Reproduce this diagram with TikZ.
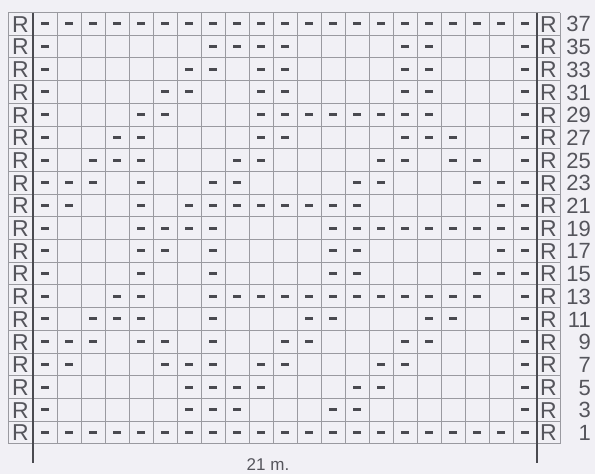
\documentclass[tikz,border=0pt]{standalone}
\usepackage{fontspec}
\setmainfont{Liberation Sans}
\definecolor{bgcol}{HTML}{F1F0F5}
\definecolor{gridcol}{HTML}{9A9AA0}
\definecolor{inkcol}{HTML}{4A4A50}
\definecolor{txtcol}{HTML}{55555C}
\tikzset{
  gridline/.style={draw=gridcol, line width=0.9pt},
  thickline/.style={draw=inkcol, line width=2.4pt},
  purl/.style={fill=inkcol, draw=none},
  rlabel/.style={inner sep=0pt, text=txtcol, font=\fontsize{23}{23}\selectfont},
  rownum/.style={inner sep=0pt, anchor=east, text=txtcol, font=\fontsize{22}{22}\selectfont},
  caption/.style={inner sep=0pt, text=txtcol, font=\fontsize{17}{17}\selectfont}
}
\begin{document}
\begin{tikzpicture}[x=1pt,y=-1pt]
\fill[bgcol] (0,0) rectangle (595,474);
\useasboundingbox (0,0) rectangle (595,474);
\def\rh{22.7}
\def\ytop{12.5}
% horizontal lines
\foreach \k in {0,...,19} {
  \draw[gridline] (8,{\ytop+\rh*\k}) -- (560,{\ytop+\rh*\k});
}
% vertical lines
\draw[gridline] (8,\ytop) -- (8,{\ytop+19*\rh});
\draw[gridline] (560,\ytop) -- (560,{\ytop+19*\rh});
\foreach \k in {1,...,20} {
  \draw[gridline] ({33+24*\k},\ytop) -- ({33+24*\k},{\ytop+19*\rh});
}
% purl dashes
\foreach \i/\cols in {
  0/{1,2,3,4,5,6,7,8,9,10,11,12,13,14,15,16,17,18,19,20,21},
  1/{1,8,9,10,11,16,17,21},
  2/{1,7,8,10,11,16,17,21},
  3/{1,6,7,10,11,16,17,21},
  4/{1,5,6,10,11,12,13,14,15,16,17,21},
  5/{1,4,5,10,11,16,17,18,21},
  6/{1,3,4,5,9,10,15,16,18,19,21},
  7/{1,2,3,5,8,9,14,15,19,20,21},
  8/{1,2,5,7,8,9,10,11,12,13,14,20,21},
  9/{1,5,6,7,8,13,14,15,16,17,18,19,20,21},
  10/{1,5,6,8,13,14,20,21},
  11/{1,5,8,13,14,19,20,21},
  12/{1,4,5,8,9,10,11,12,13,14,15,16,17,18,19,21},
  13/{1,3,4,5,8,12,13,17,18,21},
  14/{1,2,3,5,6,8,11,12,16,17,21},
  15/{1,2,6,7,8,10,11,15,16,21},
  16/{1,7,8,9,10,14,15,21},
  17/{1,7,8,9,13,14,21},
  18/{1,2,3,4,5,6,7,8,9,10,11,12,13,14,15,16,17,18,19,20,21}} {
  \foreach \c in \cols {
    \fill[purl] ({21+24*\c-4.2},{\ytop+\rh*(\i+0.5)-1.5}) rectangle ({21+24*\c+4.2},{\ytop+\rh*(\i+0.5)+1.5});
  }
  \pgfmathtruncatemacro{\rn}{37-2*\i}
  \node[rlabel] (rl-\i) at (20.5,{\ytop+\rh*(\i+0.5)+0.5}) {R};
  \node[rlabel] (rr-\i) at (548.5,{\ytop+\rh*(\i+0.5)+0.5}) {R};
  \node[rownum] (n-\i) at (591,{\ytop+\rh*(\i+0.5)+0.5}) {\rn};
}
% thick edge lines
\draw[thickline] (33,\ytop) -- (33,463);
\draw[thickline] (537,\ytop) -- (537,463);
\node[caption] (cap) at (268,465) {21 m.};
\end{tikzpicture}
\end{document}
